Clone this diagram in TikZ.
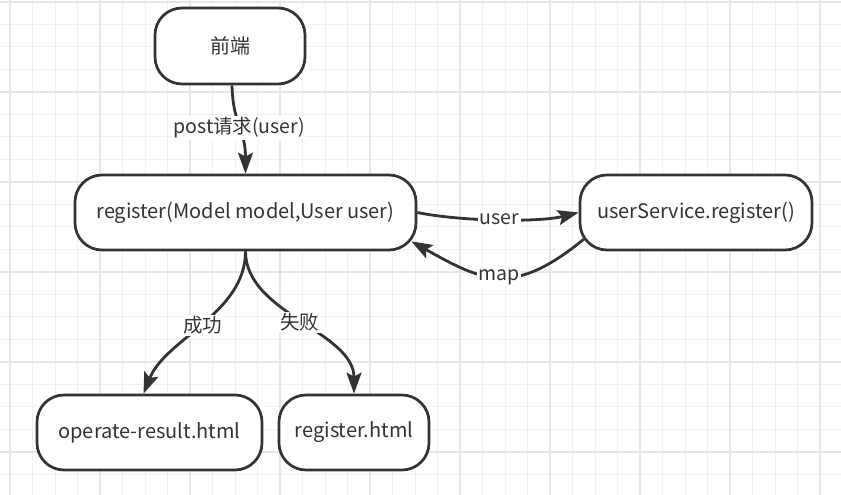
\documentclass[tikz,border=0pt]{standalone}
\usepackage{fontspec}
\setmainfont{Noto Sans CJK SC}
\usetikzlibrary{arrows.meta,calc}
\definecolor{linec}{HTML}{333333}
\definecolor{textc}{HTML}{333333}
\definecolor{gridminor}{HTML}{F0F0F0}
\definecolor{gridmajor}{HTML}{E6E6E6}
\begin{document}
\begin{tikzpicture}[x=1pt,y=1pt,
  box/.style={draw=linec, line width=2.7pt, rounded corners=27pt, fill=white,
    minimum height=75pt, inner sep=0pt, font=\fontsize{20}{24}\selectfont, text=textc},
  conn/.style={draw=linec, line width=2.8pt, -{Stealth[length=21pt,width=15pt,inset=4pt]}},
  lbl/.style={fill=white, inner sep=1.5pt, font=\fontsize{19.5}{23}\selectfont, text=textc},
  minorgrid/.style={draw=gridminor, line width=1pt},
  majorgrid/.style={draw=gridmajor, line width=1.3pt}]
\useasboundingbox[fill=white] (0,0) rectangle (841,495);
% grid
\foreach \k in {0,...,37} \draw[minorgrid] ({10+22.5*\k},0) -- ++(0,495);
\foreach \k in {0,...,22} \draw[minorgrid] (0,{493-22.5*\k}) -- ++(841,0);
\foreach \x in {10,100,...,820} \draw[majorgrid] (\x,0) -- ++(0,495);
\foreach \y in {43,133,...,493} \draw[majorgrid] (0,\y) -- ++(841,0);
% nodes
\node[box, minimum width=150pt, minimum height=76pt] (fe) at (230,449) {前端};
\node[box, minimum width=341pt] (reg) at (245.5,282.5) {register(Model model,User user)};
\node[box, minimum width=232pt] (usr) at (696,282.5) {userService.register()};
\node[box, minimum width=225pt] (ok) at (149.5,62.5) {operate-result.html};
\node[box, minimum width=150pt] (fail) at (354,62.5) {register.html};
\coordinate (mapstart) at ($(usr.south west)+(5,12)$);
\coordinate (mapend) at ($(reg.south east)+(-6,10)$);
% connectors
\draw[conn] ($(fe.south)+(2,0)$) .. controls +(1,-40) and +(0,45) .. (reg.north)
  node[lbl, pos=0.5] {post请求(user)};
\draw[conn] (reg.east) .. controls +(44,-9) and +(-40,-10) .. (usr.west)
  node[lbl, pos=0.5] {user};
\draw[conn] (mapstart) .. controls +(-70,-57) and +(73,-41) .. (mapend)
  node[lbl, pos=0.5] {map};
\draw[conn] (reg.south) .. controls +(0,-62) and +(22,55) .. ($(ok.north)+(-6,0)$)
  node[lbl, pos=0.5] {成功};
\draw[conn] (reg.south) .. controls +(0,-62) and +(0,62) .. (fail.north)
  node[lbl, pos=0.5] {失败};
\end{tikzpicture}
\end{document}
